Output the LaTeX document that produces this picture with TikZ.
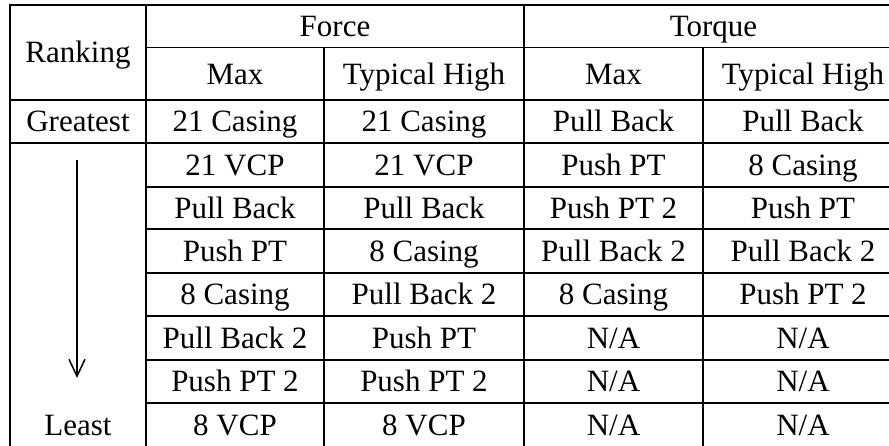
\documentclass[tikz,border=0pt]{standalone}
\usepackage{fontspec}
\setmainfont{Liberation Serif}
\usetikzlibrary{arrows.meta}
\begin{document}
\begin{tikzpicture}[x=1pt,y=-1pt]
\tikzset{
  cell/.style={anchor=base, inner sep=0pt, font=\fontsize{31}{31}\selectfont},
  grid/.style={line width=1.4pt, line cap=rect},
  rankarrow/.style={line width=1.5pt, -{Straight Barb[length=17pt,width=16pt,line width=1.5pt]}}
}
\useasboundingbox (0,0) rectangle (889,445);
% grid
\draw[grid] (10,5) -- (900,5);
\draw[grid] (146,47.7) -- (900,47.7);
\draw[grid] (10,100) -- (900,100);
\draw[grid] (10,143) -- (900,143);
\foreach \yy in {187,229,273,316,360,403} \draw[grid] (146,\yy) -- (900,\yy);
\draw[grid] (10,5) -- (10,450);
\draw[grid] (146,5) -- (146,450);
\draw[grid] (324,47.7) -- (324,450);
\draw[grid] (524,5) -- (524,450);
\draw[grid] (703,47.7) -- (703,450);
% header
\node[cell] (rank) at (78,62.8) {Ranking};
\node[cell] (force) at (335,36.6) {Force};
\node[cell] (torque) at (713.5,36.6) {Torque};
\node[cell] (fmax) at (235,84.1) {Max};
\node[cell] (fth) at (424,84.1) {Typical High};
\node[cell] (tmax) at (613.5,84.1) {Max};
\node[cell] (tth) at (803,84.1) {Typical High};
% rows
\node[cell] (greatest) at (78,131.6) {Greatest};
\node[cell] (r1a) at (235,131.6) {21 Casing};
\node[cell] (r1b) at (424,131.6) {21 Casing};
\node[cell] (r1c) at (613.5,131.6) {Pull Back};
\node[cell] (r1d) at (803,131.6) {Pull Back};
\node[cell] (r2a) at (235,175.3) {21 VCP};
\node[cell] (r2b) at (424,175.3) {21 VCP};
\node[cell] (r2c) at (613.5,175.3) {Push PT};
\node[cell] (r2d) at (803,175.3) {8 Casing};
\node[cell] (r3a) at (235,218.3) {Pull Back};
\node[cell] (r3b) at (424,218.3) {Pull Back};
\node[cell] (r3c) at (613.5,218.3) {Push PT 2};
\node[cell] (r3d) at (803,218.3) {Push PT};
\node[cell] (r4a) at (235,261.3) {Push PT};
\node[cell] (r4b) at (424,261.3) {8 Casing};
\node[cell] (r4c) at (613.5,261.3) {Pull Back 2};
\node[cell] (r4d) at (803,261.3) {Pull Back 2};
\node[cell] (r5a) at (235,304.8) {8 Casing};
\node[cell] (r5b) at (424,304.8) {Pull Back 2};
\node[cell] (r5c) at (613.5,304.8) {8 Casing};
\node[cell] (r5d) at (803,304.8) {Push PT 2};
\node[cell] (r6a) at (235,348.3) {Pull Back 2};
\node[cell] (r6b) at (424,348.3) {Push PT};
\node[cell] (r6c) at (613.5,348.3) {N/A};
\node[cell] (r6d) at (803,348.3) {N/A};
\node[cell] (r7a) at (235,391.9) {Push PT 2};
\node[cell] (r7b) at (424,391.9) {Push PT 2};
\node[cell] (r7c) at (613.5,391.9) {N/A};
\node[cell] (r7d) at (803,391.9) {N/A};
\node[cell] (least) at (78,435.3) {Least};
\node[cell] (r8a) at (235,435.3) {8 VCP};
\node[cell] (r8b) at (424,435.3) {8 VCP};
\node[cell] (r8c) at (613.5,435.3) {N/A};
\node[cell] (r8d) at (803,435.3) {N/A};
% arrow
\coordinate (astart) at (77,160);
\coordinate (aend) at (77,378);
\draw[rankarrow] (astart) -- (aend);
\end{tikzpicture}
\end{document}
